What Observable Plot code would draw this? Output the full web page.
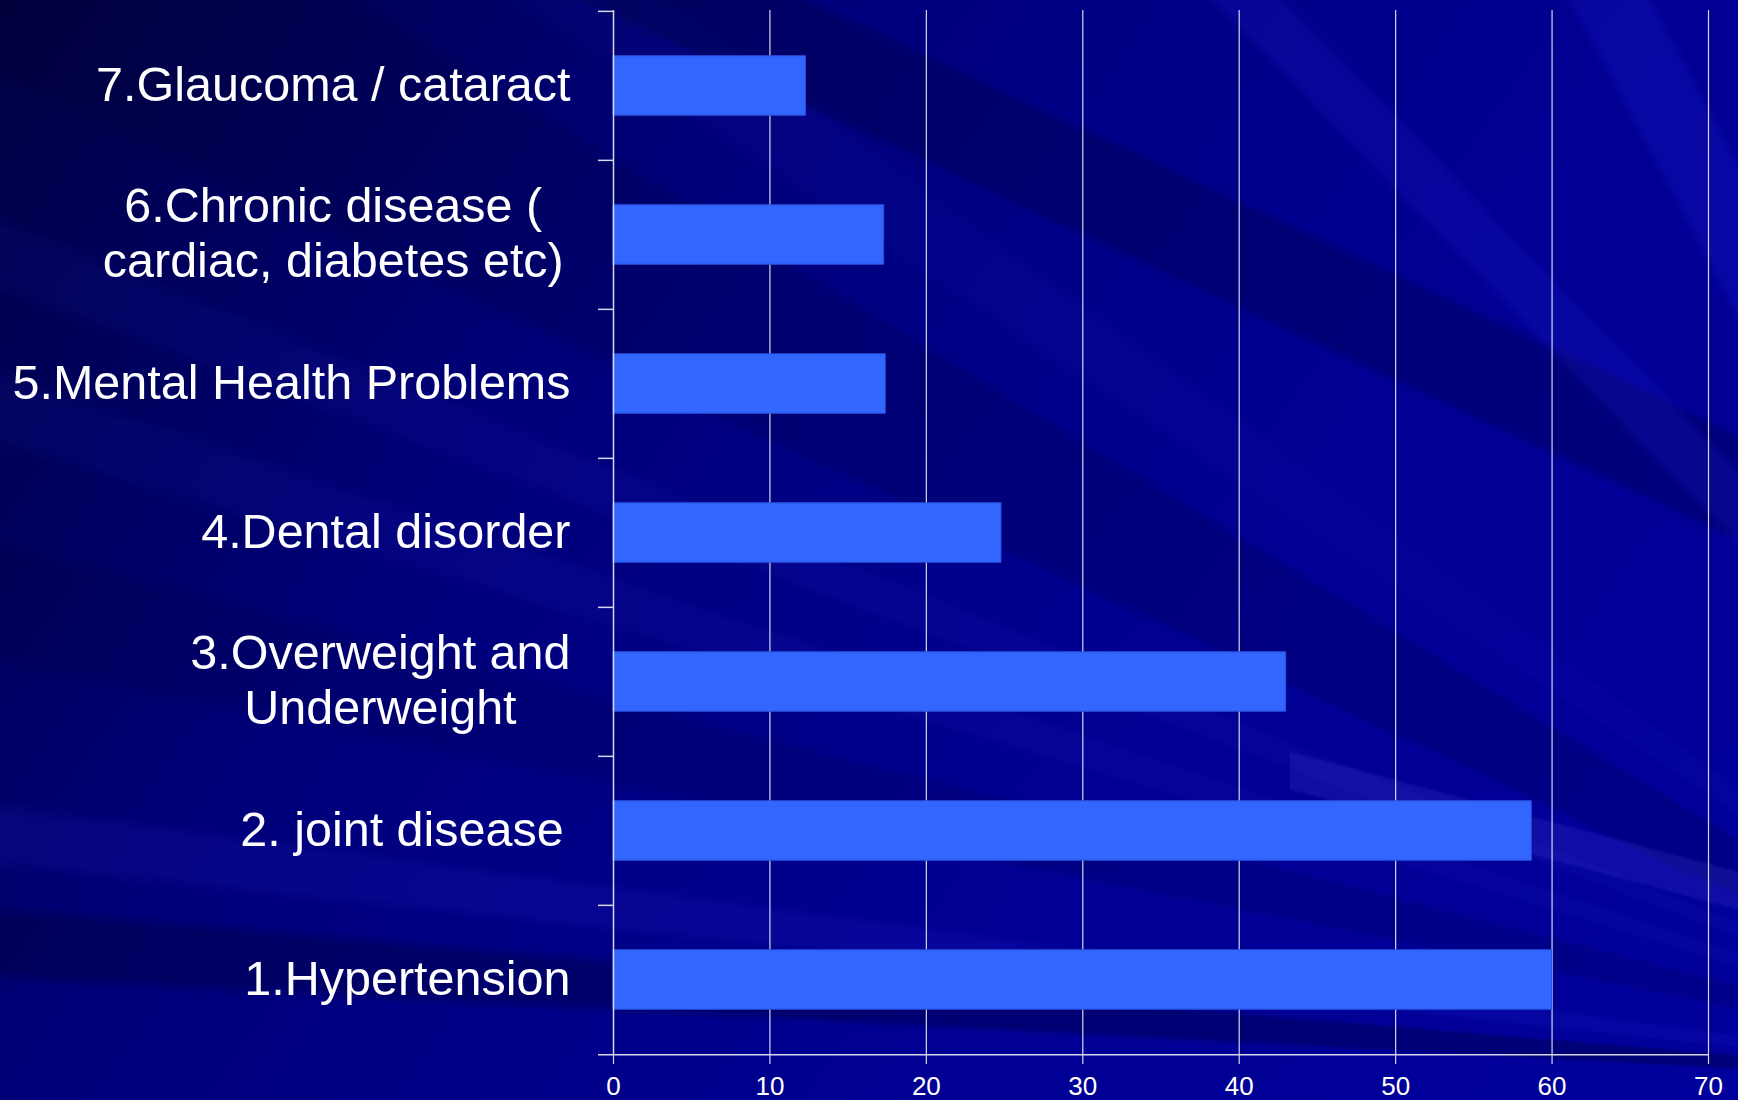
<!DOCTYPE html>
<html>
<head>
<meta charset="utf-8">
<script src="https://cdn.jsdelivr.net/npm/d3@7"></script>
<script src="https://cdn.jsdelivr.net/npm/@observablehq/plot@0.6"></script>
<style>
  html, body { margin: 0; padding: 0; width: 1738px; height: 1100px; overflow: hidden; }
  body {
    background-color: #000084;
    background-image:
      /* pale ray at the lower right */
      linear-gradient(15deg, transparent 0 25.3%, rgba(90,90,235,0.16) 25.6% 28.4%, transparent 28.7% 100%),
      /* steep rays at the upper right */
      linear-gradient(46deg, transparent 0 81%, rgba(30,30,210,0.20) 81.5% 83.5%, transparent 84% 100%),
      linear-gradient(62deg, transparent 0 92.5%, rgba(30,30,210,0.24) 93% 96%, transparent 96.5% 100%),
      /* dark ray across the top of the plot */
      linear-gradient(25deg, transparent 0 71.5%, rgba(0,0,40,0.24) 72% 77%, transparent 77.5% 100%),
      /* rays fanning out from beyond the lower-right corner */
      conic-gradient(from 0deg at 2150px 1090px,
        transparent 0deg 272.8deg,
        rgba(0,0,40,0.30) 273.2deg 274.6deg,
        transparent 275deg 275.8deg,
        rgba(40,40,210,0.14) 276.2deg 277.3deg,
        transparent 277.7deg 281deg,
        rgba(0,0,40,0.14) 281.5deg 284deg,
        transparent 284.5deg 286.6deg,
        rgba(40,40,200,0.10) 287deg 288.2deg,
        transparent 288.6deg 290.3deg,
        rgba(40,40,200,0.10) 290.7deg 291.8deg,
        transparent 292.2deg 295deg,
        rgba(0,0,30,0.16) 295.5deg 301deg,
        transparent 301.5deg 303.5deg,
        rgba(40,40,200,0.08) 304deg 306deg,
        transparent 306.5deg 360deg),
      /* overall shading: darkest towards the upper left */
      linear-gradient(125deg, #000042 0%, #000062 18%, #00007a 32%, #000088 50%, #000094 68%, #00009c 100%);
    background-repeat: no-repeat;
    background-position: 1290px 0, 0 0, 0 0, 0 0, 0 0, 0 0;
    background-size: 448px 1100px, 100% 100%, 100% 100%, 100% 100%, 100% 100%, 100% 100%;
  }
  #chart svg { display: block; background: transparent; overflow: visible; }
</style>
</head>
<body>
<div id="chart"></div>
<script>
// Health problems, as drawn from bottom (1) to top (7)
const names = [
  "1.Hypertension",
  "2. joint disease",
  "3.Overweight and Underweight",
  "4.Dental disorder",
  "5.Mental Health Problems",
  "6.Chronic disease ( cardiac, diabetes etc)",
  "7.Glaucoma / cataract"
];

// How each category label is broken into lines
const labelLines = [
  ["1.Hypertension"],
  ["2. joint disease "],
  ["3.Overweight and", "Underweight"],
  ["4.Dental disorder"],
  ["5.Mental Health Problems"],
  ["6.Chronic disease (", "cardiac, diabetes etc) "],
  ["7.Glaucoma / cataract"]
];

// Bar lengths
const values = [60, 58.7, 43.0, 24.8, 17.4, 17.3, 12.3];

// Value axis ticks
const xTicks = [0, 10, 20, 30, 40, 50, 60, 70];

const rows = names.map((name, i) => ({ name, value: values[i], lines: labelLines[i] }));
const order = names.slice().reverse();

const width = 1738, height = 1100;
const marginLeft = 613, marginRight = 30, marginTop = 10, marginBottom = 45;
const band = (height - marginTop - marginBottom) / names.length;

const lineColor = "#d6d6ec";
const font = "'Liberation Sans', Arial, Helvetica, sans-serif";
const labelSize = 48.5;
const labelGap = 43;

// Each label block is centred line by line and sits against the axis
const ctx = document.createElement("canvas").getContext("2d");
ctx.font = `${labelSize}px ${font}`;
const labelMarks = rows.map(r => {
  const w = d3.max(r.lines, l => ctx.measureText(l).width);
  return Plot.text([r], {
    y: "name",
    text: d => d.lines.map(s => s.trim()).join("\n"),
    frameAnchor: "left",
    textAnchor: "middle",
    lineAnchor: "middle",
    lineHeight: 1.14,
    dx: -labelGap - w / 2,
    dy: -3,
    fill: "white",
    fontSize: labelSize,
    fontFamily: font
  });
});

const chart = Plot.plot({
  width, height, marginLeft, marginRight, marginTop, marginBottom,
  style: { background: "transparent", fontFamily: font, color: "white", overflow: "visible" },
  x: { domain: [0, 70], axis: null },
  y: { domain: order, padding: 0, axis: null },
  marks: [
    Plot.gridX(xTicks.slice(1), { stroke: lineColor, strokeOpacity: 1, strokeWidth: 1.2 }),
    Plot.barX(rows, {
      y: "name", x: "value",
      fill: "#3366ff", stroke: "#2a52dc", strokeWidth: 1,
      insetTop: band * 0.3, insetBottom: band * 0.3
    }),
    // category axis line and the ticks between categories
    Plot.ruleX([0], { stroke: lineColor, strokeWidth: 1.5 }),
    Plot.ruleY(order, { y: d => d, x1: 0, x2: 0, insetLeft: -15, dy: -band / 2, stroke: lineColor, strokeWidth: 1.5 }),
    Plot.ruleY(order.slice(-1), { y: d => d, x1: 0, x2: 70, insetLeft: -15, dy: band / 2, stroke: lineColor, strokeWidth: 1.5 }),
    Plot.axisX({
      ticks: xTicks, tickSize: 9, tickPadding: 12, fontSize: 26,
      color: "white", stroke: lineColor, strokeWidth: 1.2, label: null
    }),
    ...labelMarks
  ]
});

document.getElementById("chart").appendChild(chart);
</script>
</body>
</html>
